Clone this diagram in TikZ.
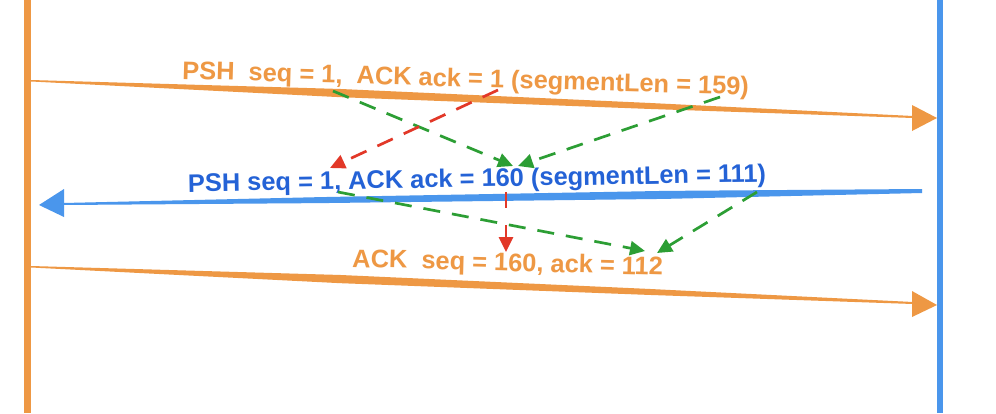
\documentclass[tikz,border=0pt]{standalone}
\usepackage{fontspec}
\setmainfont{Liberation Sans}
\usetikzlibrary{arrows.meta,calc}
\definecolor{myorange}{RGB}{238,152,68}
\definecolor{myblue}{RGB}{74,150,236}
\definecolor{textblue}{RGB}{36,98,214}
\definecolor{mygreen}{RGB}{44,158,52}
\definecolor{myred}{RGB}{226,56,40}
\tikzset{
  lbl/.style={font=\fontsize{25.4}{28}\selectfont\bfseries, inner sep=0pt, anchor=base west},
  gdash/.style={draw=mygreen, line width=2.7pt, dash pattern=on 17pt off 12pt, -{Triangle[length=15pt,width=14pt]}},
  rdash/.style={draw=myred, line width=2.7pt, dash pattern=on 17pt off 12pt, -{Triangle[length=15pt,width=14pt]}},
}
\begin{document}
\begin{tikzpicture}[x=1pt,y=-1pt]
\useasboundingbox (0,0) rectangle (996,413);
\fill[white] (0,0) rectangle (996,413);
% lifelines
\coordinate (lt) at (27,0); \coordinate (lb) at (27,413);
\coordinate (rt) at (940,0); \coordinate (rb) at (940,413);
\draw[myorange, line width=7pt] (lt) -- (lb);
\draw[myblue, line width=6pt] (rt) -- (rb);

% arrow 1 (orange, to right)
\coordinate (a1s) at (31,80);
\coordinate (a1e) at (913,117);
\coordinate (a1t) at (937,118);
\fill[myorange] (a1s) -- ($(a1s)!0.35!(a1e)+(0,-4)$) -- ($(a1s)!0.7!(a1e)+(0,-3)$) -- ($(a1e)+(0,-1)$)
  -- ($(a1e)+(0,1)$) -- ($(a1s)!0.7!(a1e)+(0,3)$) -- ($(a1s)!0.35!(a1e)+(0,4.2)$) -- ($(a1s)+(0,1.5)$) -- cycle;
\fill[myorange] ($(a1e)+(-1,-12)$) -- (a1t) -- ($(a1e)+(-1,14)$) -- cycle;

% arrow 2 (blue, to left)
\coordinate (a2s) at (922,191);
\coordinate (a2e) at (63,204);
\coordinate (a2t) at (39,205);
\fill[myblue] ($(a2s)+(0,-2)$) -- ($(a2s)!0.3!(a2e)+(0,-4)$) -- ($(a2s)!0.7!(a2e)+(0,-3)$) -- ($(a2e)+(0,-1)$)
  -- ($(a2e)+(0,1)$) -- ($(a2s)!0.7!(a2e)+(0,3)$) -- ($(a2s)!0.3!(a2e)+(0,4)$) -- ($(a2s)+(0,2)$) -- cycle;
\fill[myblue] ($(a2e)+(1,-15)$) -- (a2t) -- ($(a2e)+(1,13)$) -- cycle;

% arrow 3 (orange, to right)
\coordinate (a3s) at (31,266);
\coordinate (a3e) at (913,303);
\coordinate (a3t) at (937,305);
\fill[myorange] (a3s) -- ($(a3s)!0.35!(a3e)+(0,-4)$) -- ($(a3s)!0.7!(a3e)+(0,-3)$) -- ($(a3e)+(0,-1)$)
  -- ($(a3e)+(0,1)$) -- ($(a3s)!0.7!(a3e)+(0,3)$) -- ($(a3s)!0.35!(a3e)+(0,4.2)$) -- ($(a3s)+(0,1.5)$) -- cycle;
\fill[myorange] ($(a3e)+(-1,-12)$) -- (a3t) -- ($(a3e)+(-1,14)$) -- cycle;

% labels
\node[lbl, text=myorange, rotate=-1.6] (t1) at (182,79) {PSH\ \ seq = 1,\ \ ACK ack = 1 (segmentLen = 159)};
\node[lbl, text=textblue, rotate=1.0] (t2) at (188,192) {PSH seq = 1, ACK ack = 160 (segmentLen = 111)};
\node[lbl, text=myorange, rotate=-1.5] (t3) at (352,267) {ACK\ \ seq = 160, ack = 112};

% dashed cross arrows
\coordinate (g1s) at (333,91);   \coordinate (g1e) at (513,166);
\coordinate (g2s) at (720,97);   \coordinate (g2e) at (518,166);
\coordinate (r1s) at (498,90);   \coordinate (r1e) at (330,168);
\coordinate (r2s) at (506,192);  \coordinate (r2e) at (506,252);
\coordinate (g3s) at (338,192);  \coordinate (g3e) at (645,251);
\coordinate (g4s) at (757,192);  \coordinate (g4e) at (657,253);
\draw[gdash] (g1s) -- (g1e);
\draw[gdash] (g2s) -- (g2e);
\draw[rdash] (r1s) -- (r1e);
\draw[rdash, dash pattern=on 16pt off 17pt] (r2s) -- (r2e);
\draw[gdash] (g3s) -- (g3e);
\draw[gdash] (g4s) -- (g4e);
\end{tikzpicture}
\end{document}
